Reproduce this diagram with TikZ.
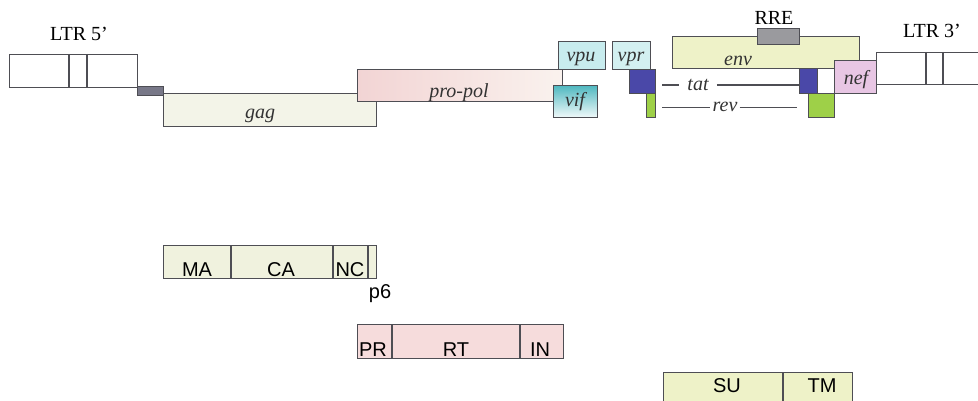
\documentclass[tikz,border=0pt]{standalone}
\usepackage{fontspec}
\setmainfont{Liberation Serif}
\newfontfamily\lbsans{Liberation Sans}
\usetikzlibrary{positioning,calc}
\definecolor{edge}{RGB}{78,78,84}
\definecolor{gagfill}{RGB}{243,244,232}
\definecolor{mafill}{RGB}{240,242,222}
\definecolor{propink}{RGB}{242,212,212}
\definecolor{propale}{RGB}{250,242,238}
\definecolor{vpufill}{RGB}{200,236,238}
\definecolor{vifteal}{RGB}{80,184,192}
\definecolor{envfill}{RGB}{238,242,200}
\definecolor{rrefill}{RGB}{154,154,158}
\definecolor{tatblue}{RGB}{74,72,168}
\definecolor{revgreen}{RGB}{158,208,72}
\definecolor{neffill}{RGB}{232,198,228}
\definecolor{leadfill}{RGB}{120,120,136}
\definecolor{pepink}{RGB}{246,220,220}
\tikzset{
  gbox/.style={draw=edge, line width=1.1pt, inner sep=0pt, anchor=north west},
  glab/.style={inner sep=0pt, anchor=base, text=black!80, font=\fontsize{20}{24}\selectfont\itshape},
  tlab/.style={inner sep=0pt, anchor=base, font=\fontsize{20}{24}\selectfont},
  plab/.style={inner sep=0pt, anchor=base, font=\lbsans\fontsize{20}{24}\selectfont},
  gline/.style={draw=edge, line width=1.1pt},
}
\newcommand{\bh}{33}

\begin{document}
\begin{tikzpicture}[x=1pt,y=-1pt]
\useasboundingbox (0,0) rectangle (978,401);
\clip (0,0) rectangle (978,401);
% genome
\node[gbox, fill=white, minimum width=128, minimum height=\bh] (ltr5) at (9,54) {};
\draw[gline] (ltr5.north west) ++(60,0) -- ++(0,\bh);
\draw[gline] (ltr5.north west) ++(78,0) -- ++(0,\bh);
\node[gbox, fill=leadfill, minimum width=26, minimum height=9] (lead) at (137,86) {};
\node[gbox, fill=gagfill, minimum width=213, minimum height=\bh] (gag) at (163,93) {};
\node[gbox, left color=propink, right color=propale, minimum width=205, minimum height=32] (propol) at (357,69) {};
\node[gbox, fill=vpufill, minimum width=47, minimum height=28] (vpu) at (558,41) {};
\node[gbox, fill=vpufill!80!white, minimum width=38, minimum height=28] (vpr) at (612,41) {};
\node[gbox, top color=vifteal, bottom color=vifteal!8!white, minimum width=44, minimum height=32] (vif) at (553,85) {};
\node[gbox, fill=tatblue, minimum width=26, minimum height=24] (tatA) at (629,69) {};
\node[gbox, fill=revgreen, minimum width=9, minimum height=24] (revA) at (646,93) {};
\node[gbox, fill=envfill, minimum width=187, minimum height=32] (env) at (672,36) {};
\node[gbox, fill=rrefill, minimum width=42, minimum height=16] (rre) at (757,28) {};
\node[gbox, fill=tatblue, minimum width=18, minimum height=25] (tatB) at (799,68) {};
\node[gbox, fill=revgreen, minimum width=26, minimum height=24] (revB) at (808,93) {};
\node[gbox, fill=neffill, minimum width=42, minimum height=\bh] (nef) at (834,60) {};
\node[gbox, fill=white, minimum width=120, minimum height=32] (ltr3) at (876,52) {};
\draw[gline] (ltr3.north west) ++(50,0) -- ++(0,32);
\draw[gline] (ltr3.north west) ++(67,0) -- ++(0,32);
% labels
\node[tlab] (ltr5lbl) at (79,41) {LTR 5'};
\node[tlab] (ltr3lbl) at (932,38) {LTR 3'};
\node[tlab] (rrelbl) at (774,25) {RRE};
\node[glab] (gaglbl) at (260,119) {gag};
\node[glab] (propollbl) at (459,98) {pro-pol};
\node[glab] (vpulbl) at (581,62) {vpu};
\node[glab] (vprlbl) at (631,62) {vpr};
\node[glab] (viflbl) at (575,107) {vif};
\node[glab] (envlbl) at (738,66) {env};
\node[glab] (neflbl) at (856,85) {nef};
\node[glab, inner xsep=8pt] (tatlbl) at (698,90.5) {tat};
\node[glab, inner xsep=2pt] (revlbl) at (725,112) {rev};
\draw[gline, shorten <=6pt] (tatA.east |- tatlbl.west) -- (tatlbl.west);
\draw[gline] (tatlbl.east) -- (tatB.west |- tatlbl.east);
\draw[gline, shorten <=6pt] (revA.east |- revlbl.west) -- (revlbl.west);
\draw[gline, shorten >=11pt] (revlbl.east) -- (revB.west |- revlbl.east);
% proteins
\node[gbox, fill=mafill, minimum width=213, minimum height=\bh] (gagp) at (163,245) {};
\draw[gline] (gagp.north west) ++(68,0) -- ++(0,\bh);
\draw[gline] (gagp.north west) ++(170,0) -- ++(0,\bh);
\draw[gline] (gagp.north west) ++(205,0) -- ++(0,\bh);
\node[plab] (malbl) at (197,276) {MA};
\node[plab] (calbl) at (281,276) {CA};
\node[plab] (nclbl) at (350,276) {NC};
\node[plab] (p6lbl) at (380,298) {p6};
\node[gbox, fill=pepink, minimum width=206, minimum height=34] (polp) at (357,324) {};
\draw[gline] (polp.north west) ++(35,0) -- ++(0,34);
\draw[gline] (polp.north west) ++(163,0) -- ++(0,34);
\node[plab] (prlbl) at (373,356) {PR};
\node[plab] (rtlbl) at (456,356) {RT};
\node[plab] (inlbl) at (540,356) {IN};
\node[gbox, fill=envfill, minimum width=189, minimum height=40] (envp) at (663,372) {};
\draw[gline] (envp.north west) ++(120,0) -- ++(0,40);
\node[plab] (sulbl) at (727,392) {SU};
\node[plab] (tmlbl) at (822,392) {TM};
\end{tikzpicture}
\end{document}
